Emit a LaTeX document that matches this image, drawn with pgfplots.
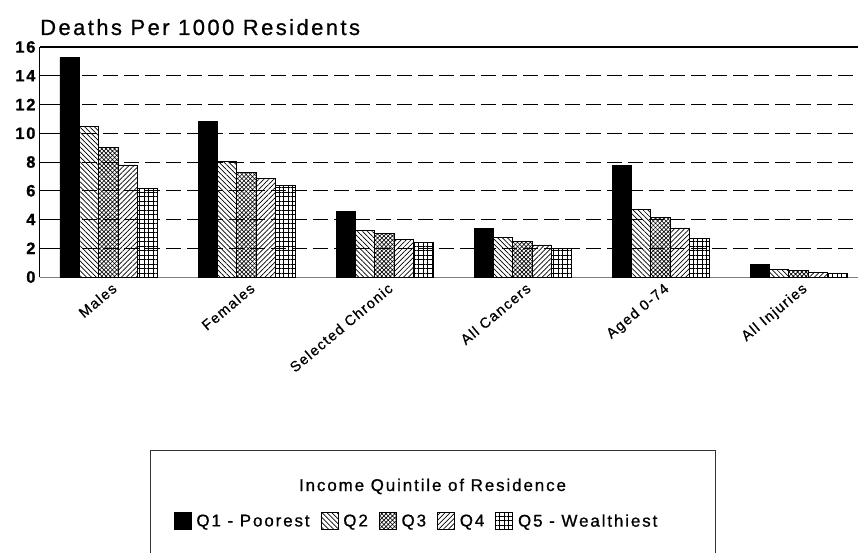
\documentclass[border=0pt]{standalone}
\usepackage{fontspec}
\setmainfont{Liberation Sans}[LetterSpace=11, RawFeature={embolden=0.8}]
\newfontfamily\labelfont{Liberation Sans}[LetterSpace=9, RawFeature={embolden=0.8}]
\usepackage{pgfplots}
\pgfplotsset{compat=1.18}
\usetikzlibrary{patterns.meta}

\begin{document}
\begin{tikzpicture}
\useasboundingbox (-40pt,-275pt) rectangle (818pt,277pt);
\begin{axis}[
  at={(0pt,0pt)}, anchor=south west,
  scale only axis, width=818pt, height=230pt,
  ybar=0pt, bar width=0.1406,
  xmin=-0.4964, xmax=5.431, ymin=0, ymax=16,
  axis x line*=bottom, axis y line*=left,
  x axis line style={gray, line width=1pt},
  y axis line style={black, line width=1pt},
  ytick={0,2,...,14}, extra y ticks={16},
  ymajorgrids,
  grid style={dash pattern=on 15pt off 6pt, black, line width=0.7pt},
  extra y tick style={grid style={solid, black, line width=1.2pt}, major tick length=0pt},
  y tick style={black, line width=0.9pt}, tick align=inside, major tick length=20pt,
  xtick={0,...,5},
  xticklabels={Males,Females,Selected Chronic,All Cancers,Aged 0-74,All Injuries},
  x tick style={draw=none},
  /pgf/number format/assume math mode=true,
  yticklabel style={font=\fontsize{16.5}{16.5}\selectfont\bfseries, xshift=-1pt},
  xticklabel style={rotate=40, anchor=north east, xshift=2pt, yshift=-2pt,
    font=\labelfont\fontsize{14.5}{14.5}\selectfont},
  every axis plot/.append style={draw=black, line width=0.7pt},
  legend columns=5,
  legend style={draw=none, fill=none, at={(0.4603,-1.0609)}, anchor=center,
    font=\fontsize{17}{20}\selectfont,
    /tikz/every even column/.append style={column sep=9pt},
    /tikz/every odd column/.append style={column sep=3pt}},
  legend image code/.code={\draw[#1] (0pt,-8pt) rectangle (17pt,9pt);},
]
\addplot[fill=black] coordinates {(0,15.26) (1,10.85) (2,4.57) (3,3.36) (4,7.74) (5,0.86)};
\addplot[pattern={Lines[angle=-45,distance=3.5pt,line width=0.7pt]}] coordinates {(0,10.50) (1,8.05) (2,3.25) (3,2.76) (4,4.73) (5,0.53)};
\addplot[pattern={Hatch[angle=45,distance=3pt,line width=0.6pt]}] coordinates {(0,9.02) (1,7.26) (2,3.04) (3,2.50) (4,4.13) (5,0.46)};
\addplot[pattern={Lines[angle=45,distance=3.5pt,line width=0.7pt]}] coordinates {(0,7.80) (1,6.87) (2,2.62) (3,2.23) (4,3.41) (5,0.33)};
\addplot[pattern={Hatch[angle=0,distance=4.5pt,line width=0.8pt]}] coordinates {(0,6.17) (1,6.38) (2,2.41) (3,1.97) (4,2.67) (5,0.23)};
\legend{Q1 - Poorest,Q2,Q3,Q4,Q5 - Wealthiest}
\end{axis}
\node[anchor=base west, inner sep=0pt, font=\fontsize{22}{24}\selectfont] at (0pt,242pt) {Deaths Per 1000 Residents};
\draw[line width=0.8pt, black!80] (110pt,-173pt) rectangle (675pt,-300pt);
\node[anchor=base, font=\fontsize{17}{20}\selectfont] at (392.5pt,-214pt) {Income Quintile of Residence};
\end{tikzpicture}
\end{document}
